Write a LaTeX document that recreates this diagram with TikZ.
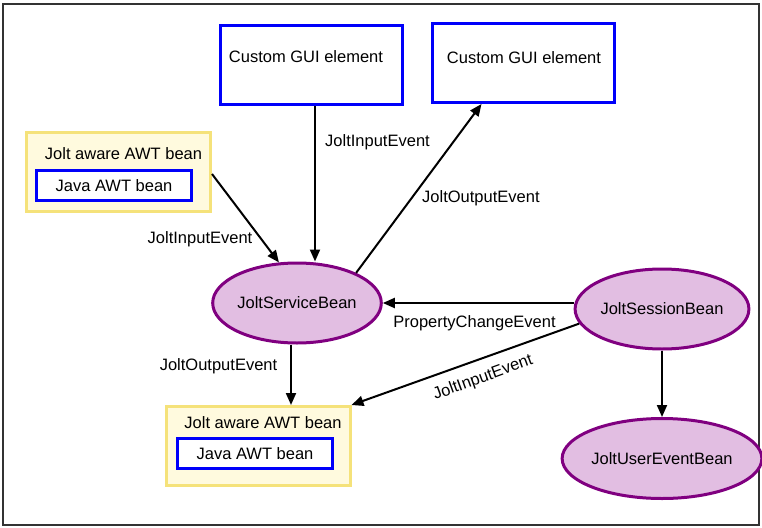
\documentclass[tikz,border=0pt]{standalone}
\usepackage{fontspec}
\setmainfont{Liberation Sans}
\usetikzlibrary{shapes.geometric}
\usetikzlibrary{arrows.meta}
\definecolor{guiblue}{RGB}{0,0,250}
\definecolor{awareyellow}{RGB}{245,226,122}
\definecolor{awarefill}{RGB}{255,250,222}
\definecolor{beanpurple}{RGB}{128,0,128}
\definecolor{beanfill}{RGB}{226,190,226}

\begin{document}
\begin{tikzpicture}
			[
				x = 1pt, y = -1pt,
				font = \fontsize{16.5}{20}\selectfont,
				guibox/.style = {rectangle, minimum width = 182pt, minimum height = 79pt, line width = 3pt, draw = guiblue, fill = white},
				awarebox/.style = {rectangle, minimum width = 184pt, minimum height = 79pt, line width = 3pt, draw = awareyellow, fill = awarefill},
				javabox/.style = {rectangle, minimum width = 155pt, minimum height = 30pt, line width = 3pt, draw = guiblue, fill = white},
				bean/.style = {ellipse, minimum width = 168pt, minimum height = 80pt, inner sep = 0pt, line width = 3pt, draw = beanpurple, fill = beanfill},
				flow/.style = {line width = 2pt, -{Triangle[length = 12pt, width = 10pt]}},
				lbl/.style = {inner sep = 0pt},
			]
			\useasboundingbox (0,0) rectangle (762,527);
			\draw [line width = 1.5pt, black!80] (3,4) rectangle (759,525);
			% boxes
			\node (gui1) [guibox] at (311,65) {};
			\node (gui1text) [lbl] at (306,57) {Custom GUI element};
			\node (gui2) [guibox] at (523.5,63) {};
			\node (gui2text) [lbl] at (524,58) {Custom GUI element};
			\node (aware1) [awarebox] at (118.5,172) {};
			\node (aware1text) [lbl] at (123.5,154) {Jolt aware AWT bean};
			\node (java1) [javabox] at (114,185.5) {Java AWT bean};
			\node (aware2) [awarebox] at (258,446) {};
			\node (aware2text) [lbl] at (263,423) {Jolt aware AWT bean};
			\node (java2) [javabox] at (255,453.5) {Java AWT bean};
			% beans
			\node (service) [bean] at (297,303) {JoltServiceBean};
			\node (session) [bean] at (662,309) {JoltSessionBean};
			\node (userevent) [bean] at (662,458.5) {JoltUserEventBean};
			% events
			\draw [flow] ([xshift = 4pt]gui1.south) -- ([xshift = 4pt]gui1.south |- service.north);
			\draw [flow] (service.27) -- ([xshift = -42pt]gui2.south);
			\draw [flow] ([yshift = -2pt]aware1.east) -- (service.114);
			\draw [flow] (session.west |- service.east) -- (service.east);
			\draw [flow] ([xshift = -6pt]service.south) -- ([xshift = -6pt]service.south |- aware2.north);
			\draw [flow] (session.190) -- (aware2.north east);
			\draw [flow] (session.south) -- (userevent.north);
			\node (lblin1) [lbl, anchor = west] at (325,142) {JoltInputEvent};
			\node (lblout1) [lbl, anchor = west] at (422,198) {JoltOutputEvent};
			\node (lblin2) [lbl] at (200,239) {JoltInputEvent};
			\node (lblprop) [lbl] at (474.5,323) {PropertyChangeEvent};
			\node (lblout2) [lbl] at (218.5,366) {JoltOutputEvent};
			\node (lblin3) [lbl, rotate = 20] at (483,378) {JoltInputEvent};
		\end{tikzpicture}
\end{document}
